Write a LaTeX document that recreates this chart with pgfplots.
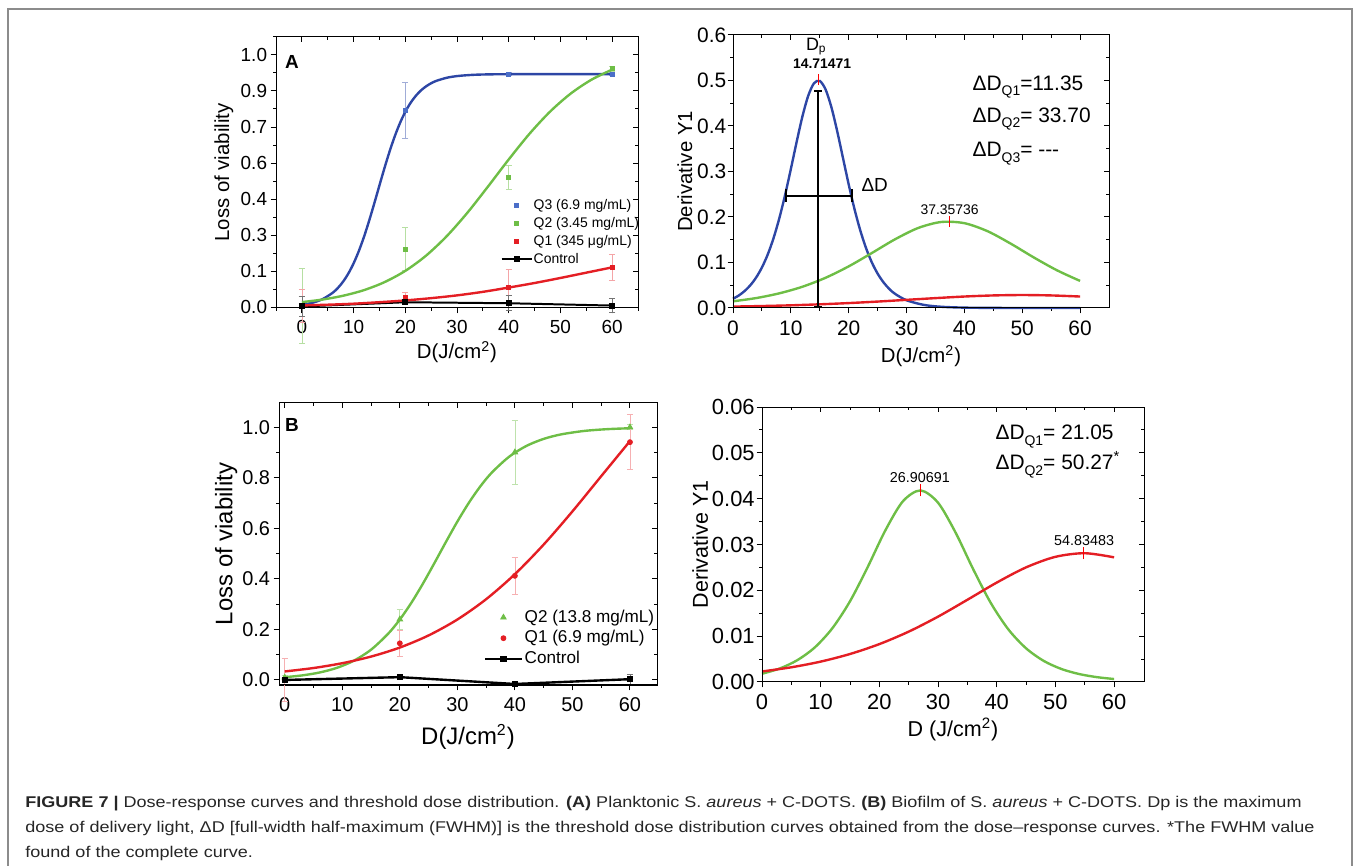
\documentclass[border=0pt]{standalone}
\usepackage{fontspec}
\setmainfont{Liberation Sans}
\newfontfamily\capfont[FakeStretch=1.16]{Liberation Sans}
\usepackage{pgfplots}
\pgfplotsset{compat=1.18}
\definecolor{cblue}{RGB}{45,70,165}
\definecolor{cbluem}{RGB}{75,110,200}
\definecolor{cgreen}{RGB}{110,190,70}
\definecolor{cred}{RGB}{228,30,36}
\newcommand\fs[1]{\fontsize{#1}{#1}\selectfont}
\newcommand\sub[1]{\raisebox{-0.5ex}{\fontsize{7}{7}\selectfont #1}}
\pgfplotsset{
 base/.style={scale only axis, clip=false, axis line style={line width=0.5pt},
   scaled x ticks=false, scaled y ticks=false,
   major tick length=2.7pt, minor tick length=1.5pt,
   every tick/.append style={line width=0.5pt, black}},
 main/.style={base, tick align=outside, tick pos=left},
 over/.style={base, tick align=inside, tick pos=right, xticklabels={}, yticklabels={}},
 eb/.style={error bars/y dir=both, error bars/y explicit,
   error bars/error bar style={line width=0.35pt, color=#1},
   error bars/error mark options={rotate=90, mark size=1.6pt, line width=0.35pt, color=#1}},
 legline/.style={legend image code/.code={\draw[mark repeat=2,mark phase=2,##1] plot coordinates {(0pt,0pt)(#1/2,0pt)(#1,0pt)};}},
 pA/.style={at={(138bp,279bp)}, anchor=south west, width=181bp, height=135.5bp,
   xmin=-5, xmax=65, ymin=-0.003, ymax=1.071,
   xtick={0,10,20,30,40,50,60}, minor xtick={-5,5,15,25,35,45,55,65},
   ytick={0,0.142857,0.285714,0.428571,0.571429,0.714286,0.857143,1},
   minor ytick={0.071429,0.214286,0.357143,0.5,0.642857,0.785714,0.928571,1.071},
   xticklabels={0,10,20,30,40,50,60},
   yticklabels={0.0,0.1,0.3,0.4,0.6,0.7,0.9,1.0},
   tick label style={font=\fs{9.5}}, yticklabel style={inner sep=1.6pt}},
 pB/.style={at={(366.5bp,279bp)}, anchor=south west, width=188bp, height=136.5bp,
   xmin=0, xmax=65, ymin=0, ymax=0.6,
   xtick={0,10,20,30,40,50,60}, minor xtick={5,15,25,35,45,55},
   ytick={0,0.1,0.2,0.3,0.4,0.5,0.6}, minor ytick={0.05,0.15,0.25,0.35,0.45,0.55},
   xticklabels={0,10,20,30,40,50,60},
   yticklabels={0.0,0.1,0.2,0.3,0.4,0.5,0.6},
   tick label style={font=\fs{10.5}}, yticklabel style={inner sep=0.5pt}},
 pC/.style={at={(139.5bp,90.5bp)}, anchor=south west, width=189bp, height=141bp,
   xmin=-1, xmax=64.7, ymin=-0.02, ymax=1.096,
   xtick={0,10,20,30,40,50,60}, minor xtick={5,15,25,35,45,55},
   ytick={0,0.2,0.4,0.6,0.8,1.0}, minor ytick={0.1,0.3,0.5,0.7,0.9},
   xticklabels={0,10,20,30,40,50,60},
   yticklabels={0.0,0.2,0.4,0.6,0.8,1.0},
   tick label style={font=\fs{10}}, yticklabel style={inner sep=1.6pt}},
 pD/.style={at={(381bp,92bp)}, anchor=south west, width=191bp, height=137.5bp,
   xmin=0, xmax=65.1, ymin=0, ymax=0.06,
   xtick={0,10,20,30,40,50,60}, minor xtick={5,15,25,35,45,55},
   ytick={0,0.01,0.02,0.03,0.04,0.05,0.06}, minor ytick={0.005,0.015,0.025,0.035,0.045,0.055},
   xticklabels={0,10,20,30,40,50,60},
   yticklabels={0.00,0.01,0.02,0.03,0.04,0.05,0.06},
   tick label style={font=\fs{11}}, yticklabel style={inner sep=0.8pt}},
}
\begin{document}
\begin{tikzpicture}
\path[use as bounding box] (0,0) rectangle (678.5bp,433bp);
\draw[black!45, line width=0.6pt] (4bp,0) -- (4bp,428.5bp) -- (676bp,428.5bp) -- (676bp,0);

%%%%%%%% Panel A
\begin{axis}[main, pA,
  xlabel={D(J/cm\textsuperscript{2})}, ylabel={Loss of viability},
  xlabel style={at={(axis description cs:0.5,-0.162)}, anchor=center, font=\fs{10.2}},
  ylabel style={at={(axis description cs:-0.144,0.5)}, anchor=center, font=\fs{10.2}},
  legend style={draw=none, fill=none, font=\fs{7}, at={(axis description cs:0.603,0.424)}, anchor=north west,
    row sep=0.8pt, nodes={inner sep=0.6pt, text height=5.5pt, text depth=1.5pt}},
  legend cell align=left, legline=15pt]
\addplot[only marks, mark=square*, mark size=1pt, color=cbluem, eb=cblue!45]
  coordinates {(0,0.006) +- (0,0.01) (20,0.781) +- (0,0.111) (40,0.924) +- (0,0.006) (60,0.924) +- (0,0.006)};
\addlegendentry{Q3 (6.9 mg/mL)}
\addplot[only marks, mark=square*, mark size=1pt, color=cgreen, eb=cgreen!50]
  coordinates {(0,0.005) +- (0,0.148) (20,0.231) +- (0,0.084) (40,0.515) +- (0,0.048) (60,0.946) +- (0,0.01)};
\addlegendentry{Q2 (3.45 mg/mL)}
\addplot[only marks, mark=square*, mark size=1pt, color=cred, eb=cred!40]
  coordinates {(0,0.006) +- (0,0.066) (20,0.040) +- (0,0.02) (40,0.080) +- (0,0.07) (60,0.158) +- (0,0.05)};
\addlegendentry{Q1 (345 μg/mL)}
\addplot[black, line width=1pt, mark=square*, mark size=1pt, eb=black!55]
  coordinates {(0,0.003) +- (0,0.04) (20,0.0198) +- (0,0.01) (40,0.0158) +- (0,0.03) (60,0.0066) +- (0,0.028)};
\addlegendentry{Control}
\addplot[cblue, line width=1.2pt, smooth, forget plot] coordinates {
 (0,0.0095)(2,0.0175)(4,0.0321)(6,0.0579)(7,0.0772)(8,0.1022)(9,0.1341)(10,0.1737)(11,0.2218)(12,0.2782)
 (13,0.3421)(14,0.4113)(15,0.4828)(16,0.5533)(17,0.6197)(18,0.6794)(19,0.7311)(20,0.7743)(21,0.8093)
 (22,0.8370)(23,0.8586)(24,0.8751)(25,0.8877)(26,0.8971)(28,0.9093)(30,0.9161)(33,0.9209)(36,0.9228)
 (40,0.9236)(50,0.924)(60,0.924)};
\addplot[cgreen, line width=1.2pt, smooth, forget plot] coordinates {
 (0,0.0203)(4,0.0305)(8,0.0457)(12,0.0677)(16,0.0996)(20,0.1441)(24,0.2042)(28,0.2813)(32,0.3743)
 (36,0.4785)(40,0.5856)(44,0.6870)(48,0.7753)(52,0.8469)(56,0.9017)(60,0.9418)};
\addplot[cred, line width=1.2pt, smooth, forget plot] coordinates {
 (0,0.007)(5,0.010)(10,0.014)(15,0.020)(20,0.027)(25,0.036)(30,0.047)(35,0.061)(40,0.078)
 (45,0.096)(50,0.116)(55,0.137)(60,0.158)};
\node[font=\fs{9.5}\bfseries] at (axis description cs:0.044,0.908) {A};
\end{axis}
\begin{axis}[pA, over]\end{axis}

%%%%%%%% Panel B
\begin{axis}[main, pB,
  xlabel={D(J/cm\textsuperscript{2})}, ylabel={Derivative Y1},
  xlabel style={at={(axis description cs:0.5,-0.176)}, anchor=center, font=\fs{10.2}},
  ylabel style={at={(axis description cs:-0.128,0.5)}, anchor=center, font=\fs{10.2}}]
\addplot[cblue, line width=1.2pt, smooth] coordinates {
 (0,0.0203)(1,0.0275)(2,0.0372)(3,0.0500)(4,0.0670)(5,0.0891)(6,0.1175)(7,0.1532)(8,0.1969)(9,0.2481)
 (10,0.3054)(11,0.3649)(12,0.4210)(13,0.4663)(14,0.4940)(15,0.4990)(16,0.4804)(17,0.4417)(18,0.3893)
 (19,0.3304)(20,0.2716)(21,0.2175)(22,0.1706)(23,0.1316)(24,0.1002)(25,0.0756)(26,0.0566)(27,0.0421)
 (28,0.0312)(30,0.0170)(33,0.0068)(36,0.0027)(40,0.0008)(45,0.0002)(50,0.0000)(60,0.0000)};
\addplot[cgreen, line width=1.2pt, smooth] coordinates {
 (0,0.0147)(4,0.0218)(8,0.0322)(12,0.0467)(16,0.0664)(20,0.0915)(24,0.1208)(28,0.1509)(32,0.1758)
 (36,0.1890)(40,0.1864)(44,0.1688)(48,0.1415)(52,0.1111)(56,0.0829)(60,0.0595)};
\addplot[cred, line width=1.2pt, smooth] coordinates {
 (0,0.0031)(5,0.0043)(10,0.0059)(15,0.0081)(20,0.0108)(25,0.0141)(30,0.0179)(35,0.0217)(40,0.0252)
 (45,0.0276)(50,0.0285)(55,0.0276)(60,0.0252)};
\addplot[black, line width=1pt] coordinates {(14.71,0.003)(14.71,0.477)};
\addplot[black, line width=1pt] coordinates {(14.05,0.477)(15.37,0.477)};
\addplot[black, line width=1pt] coordinates {(14.05,0.003)(15.37,0.003)};
\addplot[black, line width=1pt] coordinates {(9.13,0.247)(20.58,0.247)};
\addplot[black, line width=1pt] coordinates {(9.13,0.233)(9.13,0.261)};
\addplot[black, line width=1pt] coordinates {(20.58,0.233)(20.58,0.261)};
\addplot[red, line width=0.4pt] coordinates {(14.71,0.49)(14.71,0.515)};
\addplot[red, line width=0.4pt] coordinates {(37.36,0.178)(37.36,0.202)};
\node[font=\fs{9}] at (axis cs:14.4,0.574) {D\textsubscript{p}};
\node[font=\fs{7}\bfseries] at (axis cs:15.4,0.538) {14.71471};
\node[font=\fs{9.5}, anchor=west] at (axis cs:21.0,0.27) {ΔD};
\node[font=\fs{7}] at (axis cs:37.45,0.215) {37.35736};
\node[font=\fs{10.5}, anchor=west] at (axis cs:40.2,0.486) {ΔD\sub{Q1}=11.35};
\node[font=\fs{10.5}, anchor=west] at (axis cs:40.2,0.415) {ΔD\sub{Q2}= 33.70};
\node[font=\fs{10.5}, anchor=west] at (axis cs:40.2,0.339) {ΔD\sub{Q3}= -{}-{}-};
\end{axis}
\begin{axis}[pB, over]\end{axis}

%%%%%%%% Panel C
\begin{axis}[main, pC,
  xlabel={D(J/cm\textsuperscript{2})}, ylabel={Loss of viability},
  xlabel style={at={(axis description cs:0.5,-0.184)}, anchor=center, font=\fs{12}},
  ylabel style={at={(axis description cs:-0.140,0.5)}, anchor=center, font=\fs{12}},
  legend style={draw=none, fill=none, font=\fs{8.6}, at={(axis description cs:0.525,0.29)}, anchor=north west,
    row sep=0.5pt, nodes={inner sep=0.8pt, text height=6.5pt, text depth=1.8pt}},
  legend cell align=left, legline=18.5pt]
\addplot[only marks, mark=triangle*, mark size=1.6pt, color=cgreen, eb=cgreen!45]
  coordinates {(0,0.01) +- (0,0.01) (20,0.240) +- (0,0.038) (40,0.901) +- (0,0.125) (60,1.0) +- (0,0.01)};
\addlegendentry{Q2 (13.8 mg/mL)}
\addplot[only marks, mark=*, mark size=1.25pt, color=cred, eb=cred!35]
  coordinates {(0,0.0) +- (0,0.085) (20,0.145) +- (0,0.05) (40,0.412) +- (0,0.074) (60,0.941) +- (0,0.109)};
\addlegendentry{Q1 (6.9 mg/mL)}
\addplot[black, line width=1.2pt, mark=square*, mark size=1pt, eb=black!55]
  coordinates {(0,0.0) +- (0,0.01) (20,0.011) +- (0,0.006) (40,-0.016) +- (0,0.006) (60,0.003) +- (0,0.02)};
\addlegendentry{Control}
\addplot[cgreen, line width=1.2pt, smooth, forget plot] coordinates {
 (0,0.0109)(3,0.0179)(6,0.0292)(9,0.0474)(12,0.0760)(15,0.1197)(18,0.1836)(20,0.2391)(22,0.3052)
 (24,0.3805)(26,0.4620)(28,0.5455)(30,0.6266)(32,0.7011)(34,0.7663)(36,0.8209)(39,0.8834)(42,0.9261)
 (45,0.9539)(48,0.9716)(52,0.9853)(56,0.9924)(60,0.9961)};
\addplot[cred, line width=1.2pt, smooth, forget plot] coordinates {
 (0,0.0336)(5,0.0472)(10,0.0663)(15,0.0925)(20,0.1282)(25,0.1762)(30,0.2391)(35,0.3195)(40,0.4186)
 (45,0.5357)(50,0.6670)(55,0.8063)(60,0.9452)};
\node[font=\fs{9.5}\bfseries] at (axis description cs:0.034,0.922) {B};
\end{axis}
\begin{axis}[pC, over]\end{axis}

%%%%%%%% Panel D
\begin{axis}[main, pD,
  xlabel={D (J/cm\textsuperscript{2})}, ylabel={Derivative Y1},
  xlabel style={at={(axis description cs:0.5,-0.171)}, anchor=center, font=\fs{10.8}},
  ylabel style={at={(axis description cs:-0.162,0.5)}, anchor=center, font=\fs{10.8}}]
\addplot[cgreen, line width=1.2pt, smooth] coordinates {
 (0,0.00180)(3,0.00294)(6,0.00475)(9,0.00755)(12,0.01175)(15,0.01762)(18,0.02505)(21,0.03303)
 (24,0.03941)(27,0.04180)(30,0.03912)(33,0.03257)(36,0.02458)(39,0.01722)(42,0.01145)(45,0.00735)
 (48,0.00461)(51,0.00285)(54,0.00175)(57,0.00107)(60,0.00065)};
\addplot[cred, line width=1.2pt, smooth] coordinates {
 (0,0.00230)(5,0.00321)(10,0.00445)(15,0.00611)(20,0.00827)(25,0.01099)(30,0.01426)(35,0.01794)
 (40,0.02169)(45,0.02501)(50,0.02731)(55,0.02810)(60,0.02720)};
\addplot[red, line width=0.4pt] coordinates {(26.91,0.0405)(26.91,0.0432)};
\addplot[red, line width=0.4pt] coordinates {(54.83,0.0268)(54.83,0.0295)};
\node[font=\fs{7.2}] at (axis cs:26.9,0.0447) {26.90691};
\node[font=\fs{7.2}] at (axis cs:54.9,0.0309) {54.83483};
\node[font=\fs{10.5}, anchor=west] at (axis cs:38.6,0.0536) {ΔD\sub{Q1}= 21.05};
\node[font=\fs{10.5}, anchor=west] at (axis cs:38.6,0.0474) {ΔD\sub{Q2}= 50.27\textsuperscript{*}};
\end{axis}
\begin{axis}[pD, over]\end{axis}

%%%%%%%% Caption
\begin{scope}[every node/.style={anchor=base west, inner sep=0pt, text=black!85, font=\capfont\fs{7.8}}]
\node at (12.5bp,29.5bp) {\textbf{FIGURE 7 |} Dose-response curves and threshold dose distribution. \textbf{(A)} Planktonic S. \textit{aureus} + C-DOTS. \textbf{(B)} Biofilm of S. \textit{aureus} + C-DOTS. Dp is the maximum};
\node at (12.5bp,17bp) {dose of delivery light, ΔD [full-width half-maximum (FWHM)] is the threshold dose distribution curves obtained from the dose–response curves. *The FWHM value};
\node at (12.5bp,4.5bp) {found of the complete curve.};
\end{scope}
\end{tikzpicture}
\end{document}
